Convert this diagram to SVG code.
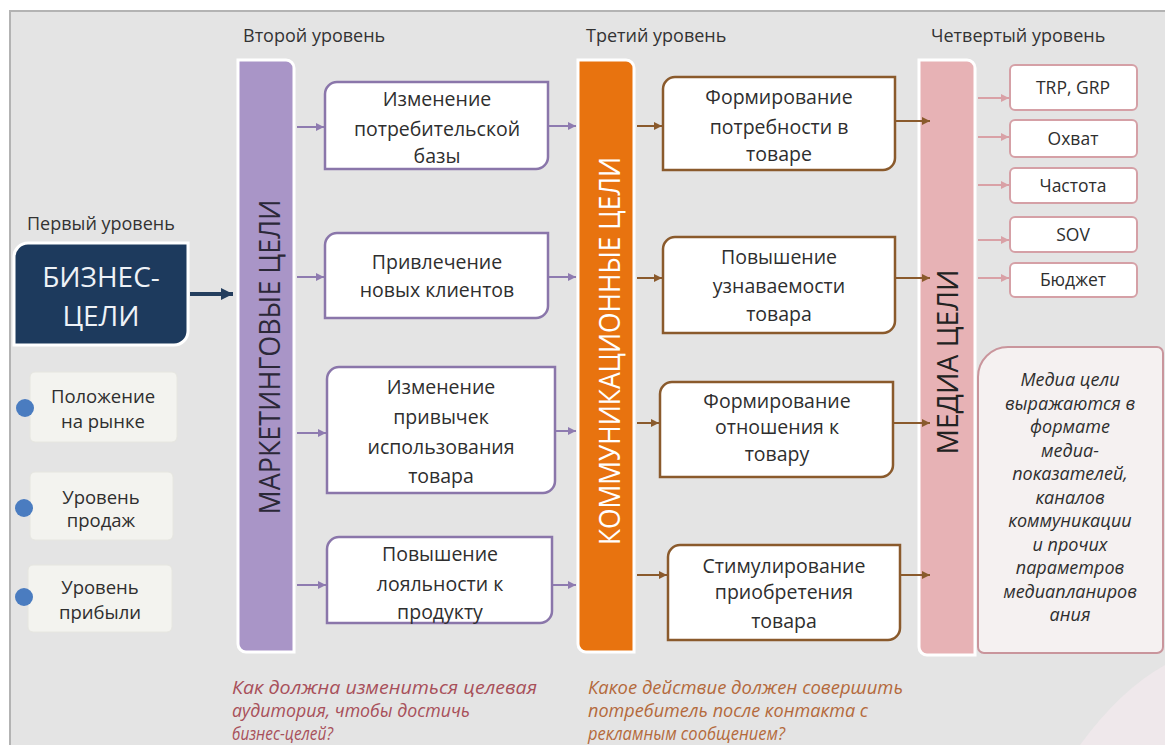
<svg xmlns="http://www.w3.org/2000/svg" width="1165" height="745" viewBox="0 0 1165 745">
<style>
.lvl{font-family:"Open Sans","Noto Sans",sans-serif;font-size:18px;fill:#333}
.lb{font-family:"Open Sans","Noto Sans",sans-serif;font-size:19.5px;fill:#2e2e2e;text-anchor:middle}
.sm{font-family:"Open Sans","Noto Sans",sans-serif;font-size:18.5px;fill:#2e2e2e;text-anchor:middle}
.md{font-family:"Open Sans","Noto Sans",sans-serif;font-size:17.5px;fill:#2e2e2e;text-anchor:middle}
.bar{font-family:"Open Sans","Noto Sans",sans-serif;font-size:30px;text-anchor:middle}
.big{font-family:"Open Sans","Noto Sans",sans-serif;font-size:28px;fill:#eef2f7;text-anchor:middle}
.desc{font-family:"Open Sans","Noto Sans",sans-serif;font-size:18px;font-style:italic;font-weight:500;fill:#2e2e2e;text-anchor:middle}
.note{font-family:"Open Sans","Noto Sans",sans-serif;font-size:18px;font-style:italic}
.mk{fill:#fff;stroke:#8a76aa;stroke-width:2.5}
.cm{fill:#fff;stroke:#8a5a2c;stroke-width:2.5}
.mb{fill:#fff;stroke:#d5a0a6;stroke-width:2}
.lf{fill:#f3f3ef;stroke:#e6e6e0;stroke-width:1}
.pa{stroke:#8e7bb0;stroke-width:2;fill:none}
.ba{stroke:#8a5a2c;stroke-width:2;fill:none}
.ka{stroke:#d9a1a6;stroke-width:2;fill:none}
</style>
<defs>
<marker id="mp" markerUnits="userSpaceOnUse" markerWidth="9" markerHeight="9" refX="8" refY="4.5" orient="auto"><path d="M0,0.5 L8,4.5 L0,8.5 Z" fill="#8e7bb0"/></marker>
<marker id="mbr" markerUnits="userSpaceOnUse" markerWidth="9" markerHeight="9" refX="8" refY="4.5" orient="auto"><path d="M0,0.5 L8,4.5 L0,8.5 Z" fill="#8a5a2c"/></marker>
<marker id="mpk" markerUnits="userSpaceOnUse" markerWidth="9" markerHeight="9" refX="8" refY="4.5" orient="auto"><path d="M0,0.5 L8,4.5 L0,8.5 Z" fill="#d9a1a6"/></marker>
<marker id="mn" markerUnits="userSpaceOnUse" markerWidth="14" markerHeight="14" refX="12" refY="7" orient="auto"><path d="M0,1 L12,7 L0,13 Z" fill="#243e5e"/></marker>
</defs>

<rect x="0" y="0" width="1165" height="745" fill="#ffffff"/>
<rect x="10" y="11" width="1160" height="740" fill="#e4e4e4" stroke="#b3b3b3" stroke-width="2"/>
<path d="M1080,745 Q1120,690 1165,665 L1165,745 Z" fill="#f1e9ec" opacity="0.8"/>

<text class="lvl" x="243" y="42">Второй уровень</text>
<text class="lvl" x="586" y="42">Третий уровень</text>
<text class="lvl" x="931" y="42">Четвертый уровень</text>
<text class="lvl" x="27" y="230">Первый уровень</text>

<g id="bar-marketing">
<path d="M238,60 H286 A8,8 0 0 1 294,68 V652 H246 A8,8 0 0 1 238,644 Z" fill="#a995c7" stroke="#ffffff" stroke-width="3"/>
<text class="bar" fill="#2b2838" transform="translate(280,357) rotate(-90)" textLength="315" lengthAdjust="spacingAndGlyphs">МАРКЕТИНГОВЫЕ ЦЕЛИ</text>
</g>
<g id="bar-communication">
<path d="M578,60 H626 A8,8 0 0 1 634,68 V652 H586 A8,8 0 0 1 578,644 Z" fill="#e8730f" stroke="#ffffff" stroke-width="3"/>
<text class="bar" fill="#ffffff" transform="translate(620,351) rotate(-90)" textLength="388" lengthAdjust="spacingAndGlyphs">КОММУНИКАЦИОННЫЕ ЦЕЛИ</text>
</g>
<g id="bar-media">
<path d="M919,60 H967 A8,8 0 0 1 975,68 V655 H927 A8,8 0 0 1 919,647 Z" fill="#e7b2b5" stroke="#ffffff" stroke-width="3"/>
<text class="bar" fill="#222222" transform="translate(958,362) rotate(-90)" textLength="185" lengthAdjust="spacingAndGlyphs">МЕДИА ЦЕЛИ</text>
</g>

<g id="business-goals">
<path d="M28,243 H188 V331 A14,14 0 0 1 174,345 H14 V257 A14,14 0 0 1 28,243 Z" fill="#1d3a5d" stroke="#ffffff" stroke-width="3"/>
<text class="big" x="101" y="287">БИЗНЕС-</text>
<text class="big" x="101" y="326">ЦЕЛИ</text>
</g>

<g id="market-position">
<rect class="lf" x="30" y="372" width="147" height="70" rx="5"/>
<circle cx="25" cy="408" r="9" fill="#4a7cc0"/>
<text class="sm" x="103" y="403">Положение</text>
<text class="sm" x="103" y="428">на рынке</text>
</g>
<g id="sales-level">
<rect class="lf" x="30" y="472" width="143" height="68" rx="5"/>
<circle cx="24" cy="508" r="9" fill="#4a7cc0"/>
<text class="sm" x="101" y="504">Уровень</text>
<text class="sm" x="101" y="527">продаж</text>
</g>
<g id="profit-level">
<rect class="lf" x="28" y="565" width="144" height="67" rx="5"/>
<circle cx="24" cy="597" r="9" fill="#4a7cc0"/>
<text class="sm" x="100" y="594">Уровень</text>
<text class="sm" x="100" y="619">прибыли</text>
</g>

<g id="m1">
<path class="mk" d="M337,82 H548 V157 A12,12 0 0 1 536,169 H325 V94 A12,12 0 0 1 337,82 Z"/>
<text class="lb" x="437" y="106">Изменение</text>
<text class="lb" x="437" y="136">потребительской</text>
<text class="lb" x="437" y="163">базы</text>
</g>
<g id="m2">
<path class="mk" d="M337,233 H548 V306 A12,12 0 0 1 536,318 H325 V245 A12,12 0 0 1 337,233 Z"/>
<text class="lb" x="437" y="269">Привлечение</text>
<text class="lb" x="437" y="297">новых клиентов</text>
</g>
<g id="m3">
<path class="mk" d="M339,367 H555 V481 A12,12 0 0 1 543,493 H327 V379 A12,12 0 0 1 339,367 Z"/>
<text class="lb" x="441" y="394">Изменение</text>
<text class="lb" x="441" y="424">привычек</text>
<text class="lb" x="441" y="454">использования</text>
<text class="lb" x="441" y="483">товара</text>
</g>
<g id="m4">
<path class="mk" d="M339,537 H552 V611 A12,12 0 0 1 540,623 H327 V549 A12,12 0 0 1 339,537 Z"/>
<text class="lb" x="440" y="561">Повышение</text>
<text class="lb" x="440" y="591">лояльности к</text>
<text class="lb" x="440" y="619">продукту</text>
</g>

<g id="c1">
<path class="cm" d="M675,77 H895 V158 A12,12 0 0 1 883,170 H663 V89 A12,12 0 0 1 675,77 Z"/>
<text class="lb" x="779" y="104">Формирование</text>
<text class="lb" x="779" y="134">потребности в</text>
<text class="lb" x="779" y="161">товаре</text>
</g>
<g id="c2">
<path class="cm" d="M675,237 H895 V321 A12,12 0 0 1 883,333 H663 V249 A12,12 0 0 1 675,237 Z"/>
<text class="lb" x="779" y="264">Повышение</text>
<text class="lb" x="779" y="293">узнаваемости</text>
<text class="lb" x="779" y="321">товара</text>
</g>
<g id="c3">
<path class="cm" d="M672,382 H893 V465 A12,12 0 0 1 881,477 H660 V394 A12,12 0 0 1 672,382 Z"/>
<text class="lb" x="777" y="408">Формирование</text>
<text class="lb" x="777" y="434">отношения к</text>
<text class="lb" x="777" y="461">товару</text>
</g>
<g id="c4">
<path class="cm" d="M680,545 H900 V628 A12,12 0 0 1 888,640 H668 V557 A12,12 0 0 1 680,545 Z"/>
<text class="lb" x="784" y="573">Стимулирование</text>
<text class="lb" x="784" y="599">приобретения</text>
<text class="lb" x="784" y="628">товара</text>
</g>

<g id="trp"><rect class="mb" x="1010" y="65" width="127" height="45" rx="5"/><text class="md" x="1073" y="94">TRP, GRP</text></g>
<g id="reach"><rect class="mb" x="1010" y="120" width="127" height="37" rx="5"/><text class="md" x="1073" y="145">Охват</text></g>
<g id="freq"><rect class="mb" x="1010" y="168" width="127" height="35" rx="5"/><text class="md" x="1073" y="192">Частота</text></g>
<g id="sov"><rect class="mb" x="1010" y="217" width="127" height="35" rx="5"/><text class="md" x="1073" y="241">SOV</text></g>
<g id="budget"><rect class="mb" x="1010" y="263" width="127" height="34" rx="5"/><text class="md" x="1073" y="286">Бюджет</text></g>

<g id="media-desc">
<path d="M1008,347 H1157 A6,6 0 0 1 1163,353 V647 A6,6 0 0 1 1157,653 H984 A6,6 0 0 1 978,647 V377 A30,30 0 0 1 1008,347 Z" fill="#f5f1f1" stroke="#c9959c" stroke-width="2"/>
<text class="desc" x="1070" y="386">Медиа цели</text>
<text class="desc" x="1070" y="409.5">выражаются в</text>
<text class="desc" x="1070" y="433">формате</text>
<text class="desc" x="1070" y="456.5">медиа-</text>
<text class="desc" x="1070" y="480">показателей,</text>
<text class="desc" x="1070" y="503.5">каналов</text>
<text class="desc" x="1070" y="527">коммуникации</text>
<text class="desc" x="1070" y="550.5">и прочих</text>
<text class="desc" x="1070" y="574">параметров</text>
<text class="desc" x="1070" y="597.5">медиапланиров</text>
<text class="desc" x="1070" y="621">ания</text>
</g>

<g id="connectors">
<line x1="190" y1="294" x2="233" y2="294" stroke="#243e5e" stroke-width="4" marker-end="url(#mn)"/>
<line class="pa" x1="297" y1="127" x2="324" y2="127" marker-end="url(#mp)"/>
<line class="pa" x1="297" y1="277" x2="324" y2="277" marker-end="url(#mp)"/>
<line class="pa" x1="297" y1="433" x2="326" y2="433" marker-end="url(#mp)"/>
<line class="pa" x1="297" y1="585" x2="326" y2="585" marker-end="url(#mp)"/>
<line class="pa" x1="549" y1="126" x2="576" y2="126" marker-end="url(#mp)"/>
<line class="pa" x1="549" y1="277" x2="576" y2="277" marker-end="url(#mp)"/>
<line class="pa" x1="556" y1="431" x2="576" y2="431" marker-end="url(#mp)"/>
<line class="pa" x1="553" y1="585" x2="576" y2="585" marker-end="url(#mp)"/>
<line class="ba" x1="637" y1="126" x2="662" y2="126" marker-end="url(#mbr)"/>
<line class="ba" x1="637" y1="278" x2="662" y2="278" marker-end="url(#mbr)"/>
<line class="ba" x1="637" y1="423" x2="659" y2="423" marker-end="url(#mbr)"/>
<line class="ba" x1="637" y1="575" x2="667" y2="575" marker-end="url(#mbr)"/>
<line class="ba" x1="896" y1="121" x2="930" y2="121" marker-end="url(#mbr)"/>
<line class="ba" x1="896" y1="278" x2="930" y2="278" marker-end="url(#mbr)"/>
<line class="ba" x1="894" y1="423" x2="930" y2="423" marker-end="url(#mbr)"/>
<line class="ba" x1="901" y1="575" x2="930" y2="575" marker-end="url(#mbr)"/>
<line class="ka" x1="978" y1="98" x2="1009" y2="98" marker-end="url(#mpk)"/>
<line class="ka" x1="978" y1="137" x2="1009" y2="137" marker-end="url(#mpk)"/>
<line class="ka" x1="978" y1="185" x2="1009" y2="185" marker-end="url(#mpk)"/>
<line class="ka" x1="978" y1="240" x2="1009" y2="240" marker-end="url(#mpk)"/>
<line class="ka" x1="978" y1="278" x2="1009" y2="278" marker-end="url(#mpk)"/>
</g>

<text class="note" fill="#a8505a" x="232" y="694" textLength="305" lengthAdjust="spacingAndGlyphs">Как должна измениться целевая</text>
<text class="note" fill="#a8505a" x="232" y="717" textLength="238" lengthAdjust="spacingAndGlyphs">аудитория, чтобы достичь</text>
<text class="note" fill="#a8505a" x="232" y="740" textLength="101" lengthAdjust="spacingAndGlyphs">бизнес-целей?</text>
<text class="note" fill="#b46a3c" x="588" y="694" textLength="315" lengthAdjust="spacingAndGlyphs">Какое действие должен совершить</text>
<text class="note" fill="#b46a3c" x="588" y="717" textLength="280" lengthAdjust="spacingAndGlyphs">потребитель после контакта с</text>
<text class="note" fill="#b46a3c" x="588" y="740" textLength="197" lengthAdjust="spacingAndGlyphs">рекламным сообщением?</text>
</svg>
